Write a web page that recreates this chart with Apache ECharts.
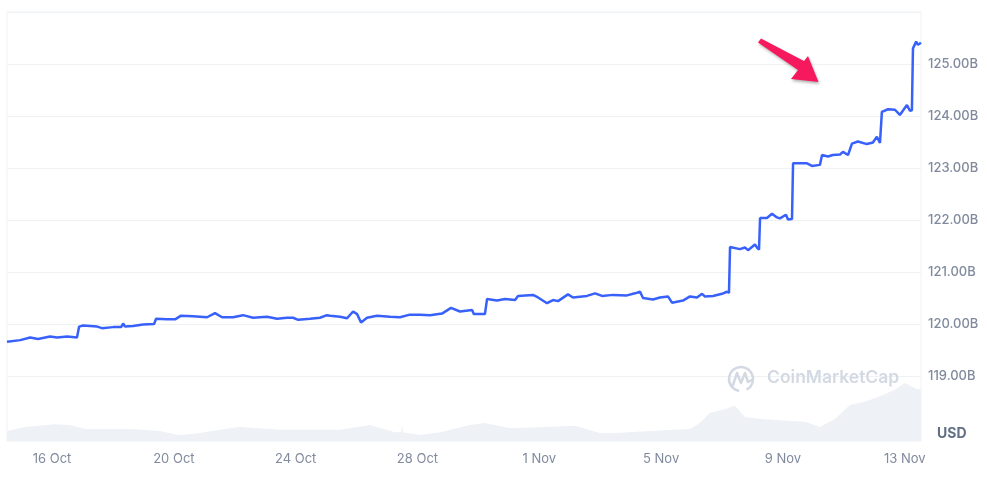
<!DOCTYPE html>
<html>
<head>
<meta charset="utf-8">
<script src="https://cdn.jsdelivr.net/npm/echarts@6/dist/echarts.min.js"></script>
<style>
html,body{margin:0;padding:0;background:#fff;}
#chart{width:987px;height:478px;}
</style>
</head>
<body>
<div id="chart"></div>
<script>
// Market cap (USD, billions) over time
const priceTimes = [
'2024-10-14 12:30','2024-10-14 23:00','2024-10-15 06:45','2024-10-15 13:00','2024-10-15 22:25','2024-10-16 04:00','2024-10-16 12:00','2024-10-16 19:40',
'2024-10-16 21:20','2024-10-17 00:25','2024-10-17 11:30','2024-10-17 15:25','2024-10-18 00:05','2024-10-18 06:25','2024-10-18 08:00','2024-10-18 09:30',
'2024-10-18 15:50','2024-10-18 23:40','2024-10-19 08:25','2024-10-19 10:00','2024-10-19 18:40','2024-10-20 01:00','2024-10-20 05:40','2024-10-20 15:10',
'2024-10-21 02:10','2024-10-21 08:25','2024-10-21 14:00','2024-10-21 22:40','2024-10-22 06:30','2024-10-22 14:25','2024-10-23 01:25','2024-10-23 09:20',
'2024-10-23 17:10','2024-10-23 22:00','2024-10-24 02:00','2024-10-24 11:20','2024-10-24 19:10','2024-10-25 00:40','2024-10-25 03:05','2024-10-25 11:00',
'2024-10-25 16:30','2024-10-25 21:15','2024-10-26 00:25','2024-10-26 03:30','2024-10-26 08:15','2024-10-26 16:05','2024-10-27 02:20','2024-10-27 10:10',
'2024-10-27 18:05','2024-10-28 02:00','2024-10-28 09:55','2024-10-28 19:20','2024-10-29 02:25','2024-10-29 09:30','2024-10-29 19:00','2024-10-29 20:30',
'2024-10-30 05:10','2024-10-30 06:50','2024-10-30 14:40','2024-10-30 21:00','2024-10-31 04:55','2024-10-31 07:15','2024-10-31 19:00','2024-10-31 23:00',
'2024-11-01 06:05','2024-11-01 10:50','2024-11-01 14:45','2024-11-01 22:35','2024-11-02 02:35','2024-11-02 13:35','2024-11-02 19:55','2024-11-03 01:25',
'2024-11-03 10:05','2024-11-03 21:05','2024-11-04 03:25','2024-11-04 07:25','2024-11-04 09:45','2024-11-04 17:35','2024-11-04 23:05','2024-11-05 05:25',
'2024-11-05 08:35','2024-11-05 17:15','2024-11-05 22:45','2024-11-06 04:20','2024-11-06 08:15','2024-11-06 10:35','2024-11-06 16:55','2024-11-07 00:00',
'2024-11-07 03:55','2024-11-07 05:30','2024-11-07 06:20','2024-11-07 14:10','2024-11-07 18:05','2024-11-07 20:30','2024-11-08 02:00','2024-11-08 03:35',
'2024-11-08 05:10','2024-11-08 06:00','2024-11-08 11:25','2024-11-08 15:25','2024-11-08 19:20','2024-11-08 21:40','2024-11-09 02:25','2024-11-09 04:00',
'2024-11-09 07:10','2024-11-09 08:00','2024-11-09 19:00','2024-11-09 22:55','2024-11-10 05:10','2024-11-10 06:50','2024-11-10 11:30','2024-11-10 15:25',
'2024-11-10 21:00','2024-11-10 23:20','2024-11-11 03:20','2024-11-11 06:25','2024-11-11 11:05','2024-11-11 18:10','2024-11-11 22:55','2024-11-12 02:05',
'2024-11-12 04:30','2024-11-12 06:00','2024-11-12 10:50','2024-11-12 16:20','2024-11-12 20:10','2024-11-13 01:45','2024-11-13 04:05','2024-11-13 05:40',
'2024-11-13 06:30','2024-11-13 09:00','2024-11-13 10:25','2024-11-13 12:50'
];
const priceValues = [
119.66,119.69,119.74,119.71,119.76,119.74,119.76,119.74,
119.95,119.97,119.95,119.92,119.94,119.94,120.01,119.95,
119.96,119.99,120.00,120.10,120.09,120.09,120.16,120.15,
120.13,120.21,120.13,120.13,120.17,120.12,120.14,120.10,
120.12,120.12,120.08,120.10,120.12,120.17,120.16,120.14,
120.11,120.24,120.19,120.03,120.12,120.16,120.14,120.13,
120.18,120.18,120.17,120.20,120.31,120.24,120.27,120.19,
120.19,120.48,120.45,120.48,120.46,120.54,120.56,120.51,
120.40,120.46,120.44,120.57,120.51,120.54,120.59,120.54,
120.56,120.55,120.59,120.62,120.50,120.47,120.51,120.53,
120.41,120.45,120.53,120.51,120.58,120.53,120.54,120.58,
120.62,120.60,121.48,121.44,121.47,121.42,121.53,121.47,
121.43,122.04,122.04,122.12,122.05,122.03,122.10,122.01,
122.02,123.09,123.09,123.04,123.06,123.25,123.22,123.25,
123.26,123.31,123.25,123.47,123.51,123.46,123.49,123.60,
123.48,124.08,124.13,124.12,124.02,124.21,124.10,124.11,
125.30,125.43,125.37,125.41
];
// Volume (USD, billions)
const volumeTimes = [
'2024-10-14 12:30','2024-10-15 03:00','2024-10-16 02:00','2024-10-16 14:00','2024-10-17 02:00','2024-10-18 13:30','2024-10-19 13:00','2024-10-20 03:20',
'2024-10-20 16:40','2024-10-21 16:20','2024-10-22 04:00','2024-10-23 11:40','2024-10-24 19:10','2024-10-25 11:00','2024-10-26 10:35','2024-10-27 06:20',
'2024-10-27 11:00','2024-10-27 11:50','2024-10-27 12:40','2024-10-28 02:00','2024-10-28 17:50','2024-10-29 17:25','2024-10-30 05:10','2024-10-31 01:00',
'2024-11-01 04:30','2024-11-02 04:05','2024-11-02 23:50','2024-11-03 11:40','2024-11-04 15:20','2024-11-05 22:45','2024-11-06 06:35','2024-11-06 14:30',
'2024-11-07 02:20','2024-11-07 10:10','2024-11-07 18:05','2024-11-08 06:00','2024-11-08 21:40','2024-11-09 17:25','2024-11-10 05:10','2024-11-10 17:00',
'2024-11-11 04:50','2024-11-11 16:40','2024-11-12 04:30','2024-11-12 16:20','2024-11-13 00:10','2024-11-13 08:05','2024-11-13 12:50'
];
const volumeValues = [
25,35,42,40,30,30,25,15,
18,30,35,28,28,28,40,22,
22,40,22,15,22,40,45,32,
35,38,20,20,25,30,45,70,
80,88,60,55,52,48,35,55,
90,98,112,128,145,132,128
];
const tickDates = ['2024-10-16','2024-10-20','2024-10-24','2024-10-28','2024-11-01','2024-11-05','2024-11-09','2024-11-13'];
const tickLabels = ['16 Oct','20 Oct','24 Oct','28 Oct','1 Nov','5 Nov','9 Nov','13 Nov'];
const xMin = '2024-10-14 12:30';
const xMax = '2024-11-13 12:50';
const yTicks = [118,119,120,121,122,123,124,125,126];

const toTs = s => {
  const [d, t] = s.split(' ');
  const [Y, M, D] = d.split('-').map(Number);
  const [h, m] = (t || '00:00').split(':').map(Number);
  return Date.UTC(Y, M - 1, D, h, m);
};
const tickTs = tickDates.map(d => toTs(d));

const chart = echarts.init(document.getElementById('chart'), null, {renderer:'canvas'});
const FONT = 'Inter, "Noto Sans", sans-serif';
const volMaxScale = 1072; // volume axis max so that volume fills the bottom band

chart.setOption({
  animation:false,
  backgroundColor:'#ffffff',
  grid:[
    {left:7,right:66,top:12,bottom:50},
    {left:7,right:66,top:12,bottom:37,show:true,borderColor:'#eff2f5',borderWidth:1,backgroundColor:'transparent'}
  ],
  xAxis:[
    {type:'value',gridIndex:0,min:toTs(xMin),max:toTs(xMax),show:false},
    {type:'value',gridIndex:1,min:toTs(xMin),max:toTs(xMax),
     axisLine:{show:false},axisTick:{show:false},splitLine:{show:false},
     axisLabel:{customValues:tickTs,margin:12,fontSize:13,color:'#808a9d',fontFamily:FONT,
       formatter:v=>{const i=tickTs.indexOf(v);return i>=0?tickLabels[i]:'';}}}
  ],
  yAxis:[
    {type:'value',gridIndex:0,position:'right',min:yTicks[0],max:yTicks[yTicks.length-1],interval:1,
     axisLine:{show:false},axisTick:{show:false},
     splitLine:{show:true,showMinLine:false,lineStyle:{color:'#eff2f5',width:1}},
     axisLabel:{margin:7,fontSize:13,color:'#808a9d',fontFamily:FONT,fontWeight:500,
       formatter:v=>(v===yTicks[0]||v===yTicks[yTicks.length-1])?'':v.toFixed(2)+'B'}},
    {type:'value',gridIndex:1,min:0,max:volMaxScale,show:false}
  ],
  series:[
    {type:'line',xAxisIndex:1,yAxisIndex:1,data:volumeTimes.map((t,i)=>[toTs(t),volumeValues[i]]),
     showSymbol:false,lineStyle:{width:0},areaStyle:{color:'#eef1f5',opacity:1},z:1,silent:true},
    {type:'line',xAxisIndex:0,yAxisIndex:0,data:priceTimes.map((t,i)=>[toTs(t),priceValues[i]]),
     showSymbol:false,lineStyle:{width:2.5,color:'#3861fb'},itemStyle:{color:'#3861fb'},z:5}
  ],
  graphic:[
    {type:'text',left:937,top:427,style:{text:'USD',fontSize:14,fontWeight:700,fill:'#616e85',fontFamily:FONT},z:10},
    {type:'text',left:767,top:369,style:{text:'CoinMarketCap',fontSize:17.5,fontWeight:600,fill:'#d3d9e3',fontFamily:FONT},z:3},
    {type:'arc',shape:{cx:741,cy:379,r:12,startAngle:Math.PI*0.55,endAngle:Math.PI*2.35},style:{stroke:'#d3d9e3',lineWidth:2.5,fill:null},z:3},
    {type:'polyline',shape:{points:[[733,385],[737,373],[741,383],[745,373],[748,382],[752,380]]},style:{stroke:'#d3d9e3',lineWidth:2.5,fill:null,lineJoin:'round',lineCap:'round'},z:3},
    {type:'polygon',shape:{points:[[761,38.5],[804,61],[808,56],[818.5,82],[791,79],[798,70],[758,42.5]]},
     style:{fill:'#f7195d',shadowBlur:3,shadowColor:'rgba(0,0,0,0.3)',shadowOffsetY:2,shadowOffsetX:1},z:10}
  ]
});
</script>
</body>
</html>
